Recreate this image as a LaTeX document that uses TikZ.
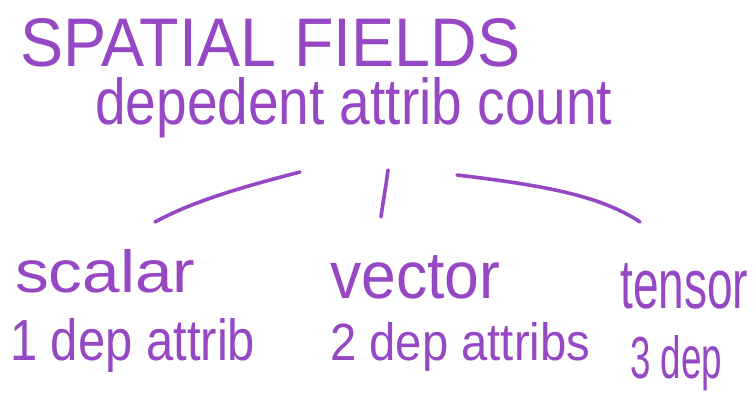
\documentclass[tikz,border=0pt]{standalone}
\usepackage{graphicx}
\usepackage{fontspec}
\setmainfont{Liberation Sans}
\definecolor{ink}{RGB}{150,72,196}
% text stretched to a given ink box: width, height above baseline
\newcommand{\fitword}[3]{\resizebox{#1pt}{#2pt}{#3}}
\begin{document}
\begin{tikzpicture}[x=1pt,y=-1pt,
  lbl/.style={anchor=base west,inner sep=0pt,text=ink},
  stroke/.style={draw=ink,line width=3.6pt,line cap=round}]
\useasboundingbox[fill=white] (0,0) rectangle (754,406);
% headings
\node[lbl] (title) at (20,67) {\fitword{500}{48}{SPATIAL FIELDS}};
\node[lbl] (count) at (95,125) {\fitword{517}{47}{depedent attrib count}};
% branch ends
\coordinate (lt) at (300,172);
\coordinate (lb) at (155,222);
\coordinate (mt) at (388,170);
\coordinate (mb) at (381,217);
\coordinate (rt) at (457,175);
\coordinate (rb) at (640,222);
\draw[stroke] (lt) .. controls (250,185) and (195,200) .. (lb);
\draw[stroke] (mt) .. controls (386,186) and (383,202) .. (mb);
\draw[stroke] (rt) .. controls (540,185) and (600,195) .. (rb);
% field kinds
\node[lbl] (scalar) at (15,292) {\fitword{180}{43}{scalar}};
\node[lbl] (vector) at (330,298) {\fitword{170}{43}{vector}};
\node[lbl] (tensor) at (620,308) {\fitword{128}{45}{tensor}};
\node[lbl] (one) at (10,360) {\fitword{245}{42}{1 dep attrib}};
\node[lbl] (two) at (330,360) {\fitword{260}{38}{2 dep attribs}};
\node[lbl] (three) at (630,378) {\fitword{92}{43}{3 dep}};
\end{tikzpicture}
\end{document}
